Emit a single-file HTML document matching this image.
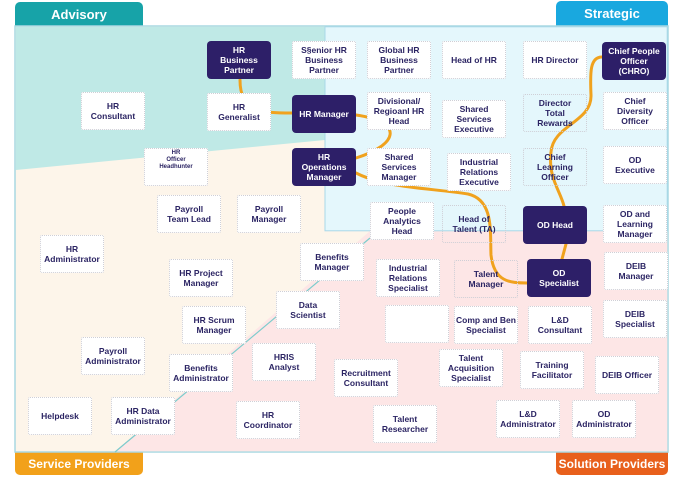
<!DOCTYPE html>
<html><head><meta charset="utf-8"><style>
body{margin:0;width:700px;height:478px;background:#fff;position:relative;overflow:hidden;font-family:"Liberation Sans",sans-serif}
.b{position:absolute;width:64px;height:38px;background:#fff;border:1px dotted #cfcfd6;box-sizing:border-box;display:flex;align-items:center;justify-content:center;text-align:center;font-size:8.5px;font-weight:bold;color:#2b2463;line-height:10px;border-radius:2px}
.d{background:#2d1f68;color:#fff;border:none;border-radius:4px}
.t{position:absolute;color:#fff;font-weight:bold;font-size:12px;white-space:nowrap;display:flex;align-items:center;justify-content:center;border-radius:5px 5px 0 0}
</style></head><body>
<div class="t" style="left:15px;top:2px;width:128px;height:24px;background:#17a3a8;font-size:13px">Advisory</div>
<div class="t" style="left:556px;top:1px;width:112px;height:25px;background:#19a8df;font-size:13px">Strategic</div>
<div class="t" style="left:15px;top:452px;width:128px;height:23px;background:#f2a11a;border-radius:0 0 5px 5px">Service Providers</div>
<div class="t" style="left:556px;top:452px;width:112px;height:23px;background:#e8601c;border-radius:0 0 5px 5px">Solution Providers</div>
<svg style="position:absolute;left:0;top:0" width="700" height="478">
<rect x="15" y="26" width="653" height="426" fill="#fdf5ea" stroke="#a9d8e2" stroke-width="1.5"/>
<polygon points="15.8,26.8 325,26.8 325,140 15.8,170" fill="#bfe9e6"/>
<polygon points="370,231 667.2,231 667.2,451.2 115,451.2" fill="#fde6e6"/>
<rect x="325" y="26.8" width="342.2" height="204" fill="#e4f7fc" stroke="#a9d8e8" stroke-width="1"/>
<line x1="115" y1="452" x2="370" y2="238" stroke="#7ccccc" stroke-width="1.2"/>
<g fill="none" stroke="#f0a21e" stroke-width="3" stroke-linecap="round">
<path d="M240,80 C240,112 262,113 292,113"/>
<path d="M356,115 C405,122 398,145 356,158"/>
<path d="M356,173 C385,188 430,188 468,194 C494,200 490,232 491,255 C494,282 510,283 527,283"/>
<path d="M602,57 C590,57 590,72 591,95 C592,122 553,125 551,152 C548,178 560,190 564,206"/>
<path d="M566,244 L562,259"/>
</g>
</svg>
<div class="b d" style="left:207px;top:41px">HR<br>Business<br>Partner</div>
<div class="b" style="left:292px;top:41px">S§enior HR<br>Business<br>Partner</div>
<div class="b" style="left:367px;top:41px">Global HR<br>Business<br>Partner</div>
<div class="b" style="left:442px;top:41px">Head of HR</div>
<div class="b" style="left:523px;top:41px">HR Director</div>
<div class="b d" style="left:602px;top:42px">Chief People<br>Officer<br>(CHRO)</div>
<div class="b" style="left:81px;top:92px">HR<br>Consultant</div>
<div class="b" style="left:207px;top:93px">HR<br>Generalist</div>
<div class="b d" style="left:292px;top:95px">HR Manager</div>
<div class="b" style="left:367px;top:92px">Divisional/<br>Regioanl HR<br>Head</div>
<div class="b" style="left:442px;top:100px">Shared<br>Services<br>Executive</div>
<div class="b" style="left:523px;top:94px;background:transparent">Director<br>Total<br>Rewards</div>
<div class="b" style="left:603px;top:92px">Chief<br>Diversity<br>Officer</div>
<div class="b" style="left:144px;top:148px;font-size:6px;line-height:7px;align-items:flex-start;padding-top:1px">HR<br>Officer<br>Headhunter</div>
<div class="b d" style="left:292px;top:148px">HR<br>Operations<br>Manager</div>
<div class="b" style="left:367px;top:148px">Shared<br>Services<br>Manager</div>
<div class="b" style="left:447px;top:153px">Industrial<br>Relations<br>Executive</div>
<div class="b" style="left:523px;top:148px;background:transparent">Chief<br>Learning<br>Officer</div>
<div class="b" style="left:603px;top:146px">OD<br>Executive</div>
<div class="b" style="left:157px;top:195px">Payroll<br>Team Lead</div>
<div class="b" style="left:237px;top:195px">Payroll<br>Manager</div>
<div class="b" style="left:370px;top:202px">People<br>Analytics<br>Head</div>
<div class="b" style="left:442px;top:205px;background:transparent">Head of<br>Talent (TA)</div>
<div class="b d" style="left:523px;top:206px">OD Head</div>
<div class="b" style="left:603px;top:205px">OD and<br>Learning<br>Manager</div>
<div class="b" style="left:40px;top:235px">HR<br>Administrator</div>
<div class="b" style="left:300px;top:243px">Benefits<br>Manager</div>
<div class="b" style="left:169px;top:259px">HR Project<br>Manager</div>
<div class="b" style="left:376px;top:259px">Industrial<br>Relations<br>Specialist</div>
<div class="b" style="left:454px;top:260px;background:transparent">Talent<br>Manager</div>
<div class="b d" style="left:527px;top:259px">OD<br>Specialist</div>
<div class="b" style="left:604px;top:252px">DEIB<br>Manager</div>
<div class="b" style="left:276px;top:291px">Data<br>Scientist</div>
<div class="b" style="left:182px;top:306px">HR Scrum<br>Manager</div>
<div class="b" style="left:385px;top:305px"></div>
<div class="b" style="left:454px;top:306px">Comp and Ben<br>Specialist</div>
<div class="b" style="left:528px;top:306px">L&amp;D<br>Consultant</div>
<div class="b" style="left:603px;top:300px">DEIB<br>Specialist</div>
<div class="b" style="left:81px;top:337px">Payroll<br>Administrator</div>
<div class="b" style="left:169px;top:354px">Benefits<br>Administrator</div>
<div class="b" style="left:252px;top:343px">HRIS<br>Analyst</div>
<div class="b" style="left:334px;top:359px">Recruitment<br>Consultant</div>
<div class="b" style="left:439px;top:349px">Talent<br>Acquisition<br>Specialist</div>
<div class="b" style="left:520px;top:351px">Training<br>Facilitator</div>
<div class="b" style="left:595px;top:356px">DEIB Officer</div>
<div class="b" style="left:28px;top:397px">Helpdesk</div>
<div class="b" style="left:111px;top:397px">HR Data<br>Administrator</div>
<div class="b" style="left:236px;top:401px">HR<br>Coordinator</div>
<div class="b" style="left:373px;top:405px">Talent<br>Researcher</div>
<div class="b" style="left:496px;top:400px">L&amp;D<br>Administrator</div>
<div class="b" style="left:572px;top:400px">OD<br>Administrator</div>
</body></html>
